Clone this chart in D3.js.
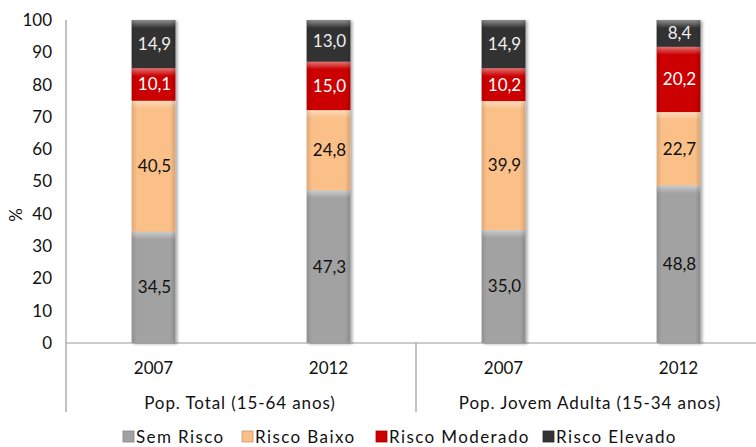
<!DOCTYPE html>
<html><head><meta charset="utf-8">
<script src="https://cdn.jsdelivr.net/npm/d3@7/dist/d3.min.js"></script>
<style>body{margin:0;background:#fff}svg{display:block}text{font-family:Lato,"DejaVu Sans",sans-serif}</style>
</head><body><svg id="c" width="756" height="447"></svg>
<script>
const groups = ["Pop. Total (15-64 anos)", "Pop. Jovem Adulta (15-34 anos)"];
const years = ["2007", "2012", "2007", "2012"];
const series = ["Sem Risco", "Risco Baixo", "Risco Moderado", "Risco Elevado"];
const semRisco = [34.5, 47.3, 35.0, 48.8];
const riscoBaixo = [40.5, 24.8, 39.9, 22.7];
const riscoModerado = [10.1, 15.0, 10.2, 20.2];
const riscoElevado = [14.9, 13.0, 14.9, 8.4];
const yTicks = [0,10,20,30,40,50,60,70,80,90,100];
const colors = ["#a2a2a2", "#fbbf88", "#cc0000", "#333333"];
const labelColors = ["#111", "#111", "#fff", "#eee"];

const svg = d3.select("#c");
const pLeft = 66, pTop = 20, pBottom = 343, pRight = 766;
const FS = 17;
const y = d3.scaleLinear().domain([0,100]).range([pBottom, pTop]);
const x = d3.scaleBand().domain(d3.range(4)).range([pLeft, pRight]).paddingInner(0.75).paddingOuter(0.375);
const band = d3.scaleBand().domain(d3.range(4)).range([pLeft, pRight]);

const defs = svg.append("defs");
const f = defs.append("filter").attr("id","sh").attr("x","-20%").attr("width","150%");
f.append("feGaussianBlur").attr("in","SourceAlpha").attr("stdDeviation",1.5);
f.append("feOffset").attr("dx",2).attr("dy",1).attr("result","b");
f.append("feComponentTransfer").append("feFuncA").attr("type","linear").attr("slope",0.35);
const m = f.append("feMerge"); m.append("feMergeNode"); m.append("feMergeNode").attr("in","SourceGraphic");
const hg = defs.append("linearGradient").attr("id","hl").attr("x1",0).attr("y1",0).attr("x2",0).attr("y2",1);
hg.append("stop").attr("offset",0).attr("stop-color","#fff").attr("stop-opacity",0.45);
hg.append("stop").attr("offset",1).attr("stop-color","#fff").attr("stop-opacity",0);
const sg = defs.append("linearGradient").attr("id","sd").attr("x1",0).attr("y1",0).attr("x2",1).attr("y2",0);
sg.append("stop").attr("offset",0).attr("stop-color","#000").attr("stop-opacity",0.12);
sg.append("stop").attr("offset",0.12).attr("stop-color","#000").attr("stop-opacity",0);
sg.append("stop").attr("offset",0.88).attr("stop-color","#000").attr("stop-opacity",0);
sg.append("stop").attr("offset",1).attr("stop-color","#000").attr("stop-opacity",0.15);

// axes lines
svg.append("line").attr("x1",pLeft).attr("x2",pLeft).attr("y1",pTop).attr("y2",412).attr("stroke","#999").attr("stroke-width",1.2);
svg.append("line").attr("x1",pLeft).attr("x2",pRight).attr("y1",pBottom).attr("y2",pBottom).attr("stroke","#999").attr("stroke-width",1.2);
svg.append("line").attr("x1",band(2)).attr("x2",band(2)).attr("y1",pBottom).attr("y2",412).attr("stroke","#999").attr("stroke-width",1.2);

// y tick labels
svg.append("g").selectAll("text").data(yTicks).join("text")
  .attr("x",52).attr("y",d=>y(d)).attr("dy","0.35em").attr("text-anchor","end")
  .attr("font-size",FS).attr("fill","#111").text(d=>d);
svg.append("text").attr("transform","translate(22,215) rotate(-90)").attr("text-anchor","middle")
  .attr("font-size",FS).attr("fill","#111").text("%");

const data = [semRisco, riscoBaixo, riscoModerado, riscoElevado];
const stacked = d3.range(4).map(i => {
  let acc = 0;
  return data.map((s,k) => { const y0 = acc; acc += s[i]; return {i,k,y0,y1:acc,v:s[i]}; });
});
const bars = svg.append("g");
stacked.forEach(col => {
  const g = bars.append("g").attr("filter","url(#sh)");
  col.forEach(d => {
    const t1 = Math.max(y(Math.min(d.y1,100)), pTop);
    const h = y(d.y0) - t1;
    g.append("rect").attr("x",x(d.i)).attr("y",t1).attr("width",x.bandwidth()).attr("height",h).attr("fill",colors[d.k]);
    g.append("rect").attr("x",x(d.i)).attr("y",t1).attr("width",x.bandwidth()).attr("height",Math.min(8,h)).attr("fill","url(#hl)");
    g.append("rect").attr("x",x(d.i)).attr("y",t1).attr("width",x.bandwidth()).attr("height",h).attr("fill","url(#sd)");
  });
});
stacked.forEach(col => col.forEach(d => {
  svg.append("text").attr("x",x(d.i)+x.bandwidth()/2+1).attr("y",(y(d.y0)+y(Math.min(d.y1,100)))/2)
    .attr("dy","0.35em").attr("text-anchor","middle").attr("font-size",FS).attr("fill",labelColors[d.k])
    .text(d.v.toFixed(1).replace(".",","));
}));

// x labels
svg.append("g").selectAll("text").data(years).join("text")
  .attr("x",(d,i)=>band(i)+band.bandwidth()/2).attr("y",368).attr("dy","0.35em").attr("text-anchor","middle")
  .attr("font-size",FS).attr("fill","#111").text(d=>d);
svg.append("g").selectAll("text").data(groups).join("text")
  .attr("x",(d,i)=>[240,590][i]).attr("y",403).attr("dy","0.35em").attr("text-anchor","middle")
  .attr("font-size",FS).attr("letter-spacing",0.9).attr("fill","#111").text(d=>d);

// legend
const lx = [123, 242, 376, 543];
const lg = svg.append("g").selectAll("g").data(series).join("g").attr("transform",(d,i)=>`translate(${lx[i]},431)`);
lg.append("rect").attr("width",11).attr("height",11).attr("fill",(d,i)=>colors[i]).attr("stroke",(d,i)=>d3.color(colors[i]).darker(0.6)).attr("stroke-width",0.8);
lg.append("text").attr("x",13).attr("y",6).attr("dy","0.35em").attr("font-size",FS).attr("letter-spacing",1.4).attr("fill","#111").text(d=>d);
</script></body></html>
